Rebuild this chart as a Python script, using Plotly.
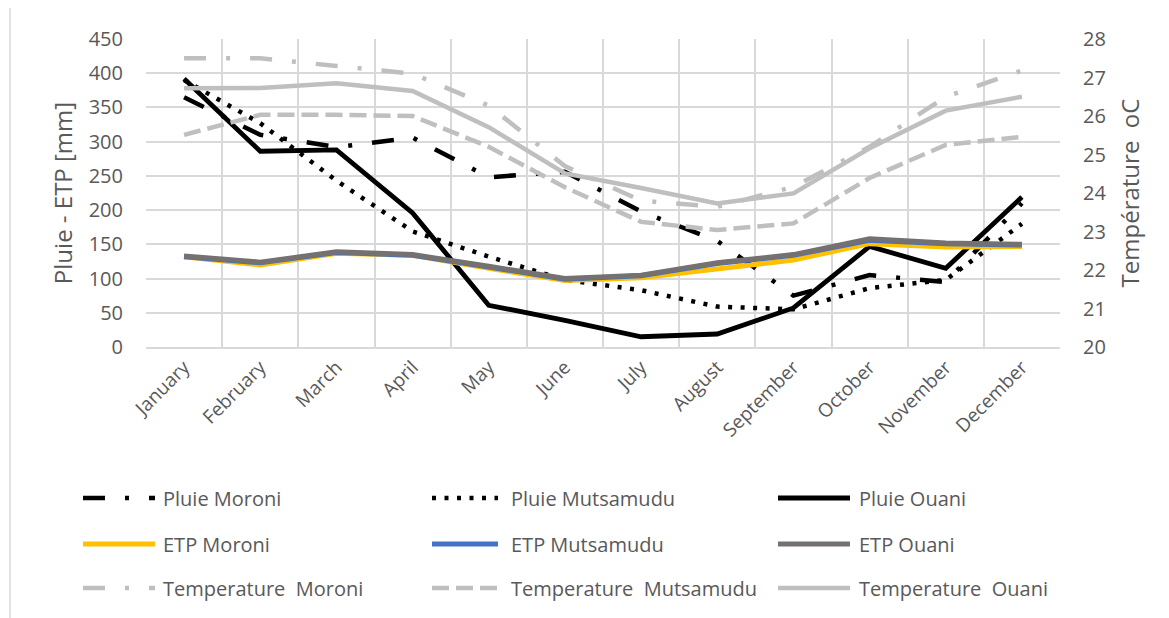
import plotly.graph_objects as go

months = ["January", "February", "March", "April", "May", "June", "July",
          "August", "September", "October", "November", "December"]

pluie_moroni = [365, 310, 292, 306, 248, 256, 198, 155, 75, 105, 95, 210]
pluie_mutsamudu = [390, 327, 243, 169, 132, 98, 83, 59, 55, 86, 98, 180]
pluie_ouani = [392, 286, 288, 196, 61, 39, 15, 19, 57, 147, 115, 219]

etp_moroni = [132, 120, 137, 134, 115, 97, 101, 114, 127, 151, 146, 147]
etp_mutsamudu = [132, 123, 138, 134, 117, 99, 104, 122, 134, 156, 151, 149]
etp_ouani = [133, 124, 139, 135, 118, 100, 105, 123, 135, 158, 152, 150]

temp_moroni = [27.5, 27.5, 27.3, 27.1, 26.27, 24.7, 23.8, 23.64, 24.16, 25.2, 26.5, 27.18]
temp_mutsamudu = [25.51, 26.03, 26.03, 26.0, 25.2, 24.15, 23.25, 23.04, 23.21, 24.39, 25.25, 25.46]
temp_ouani = [26.72, 26.73, 26.85, 26.65, 25.71, 24.51, 24.13, 23.73, 23.99, 25.16, 26.14, 26.5]

left_ticks = list(range(0, 451, 50))
right_ticks = list(range(20, 29))

FONT = "Open Sans"
TXT = "#595959"
GRID = "#D9D9D9"
LGRAY = "#BFBFBF"

DASHDOT = "22px,20px,4px,20px"
DOTTED = "4px,8.5px"
DASHED = "17px,7px"

series = [
    ("Pluie Moroni", pluie_moroni, "y", "#000000", 4.5, DASHDOT),
    ("Pluie Mutsamudu", pluie_mutsamudu, "y", "#000000", 4.5, DOTTED),
    ("Pluie Ouani", pluie_ouani, "y", "#000000", 4.8, "solid"),
    ("ETP Moroni", etp_moroni, "y", "#FFC000", 5, "solid"),
    ("ETP Mutsamudu", etp_mutsamudu, "y", "#4472C4", 5, "solid"),
    ("ETP Ouani", etp_ouani, "y", "#767171", 5, "solid"),
    ("Temperature  Moroni", temp_moroni, "y2", LGRAY, 4.5, DASHDOT),
    ("Temperature  Mutsamudu", temp_mutsamudu, "y2", LGRAY, 4.5, DASHED),
    ("Temperature  Ouani", temp_ouani, "y2", LGRAY, 4.5, "solid"),
]

fig = go.Figure()
for name, vals, ax, col, w, dash in series:
    fig.add_trace(go.Scatter(x=months, y=vals, name=name, yaxis=ax, mode="lines",
                             line=dict(color=col, width=w, dash=dash),
                             showlegend=False))

# page body has an 8px margin: work in screen pixels, convert to figure pixels
OFF = 8
W, H = 1169 - OFF, 618 - OFF
L, R, T, B = 146 - OFF, 1060 - OFF, 39 - OFF, 347 - OFF


def px(xs):
    return (xs - OFF - L) / (R - L)


def py(ys):
    return (B - (ys - OFF)) / (B - T)


shapes = []
annotations = []
# manual legend (3 columns x 3 rows), screen coordinates
col_sym = [(83, 155), (432, 498), (778, 850)]
col_txt = [161, 509, 857]
row_y = [498, 544, 588]
for i, (name, vals, ax, col, w, dash) in enumerate(series):
    c = i % 3
    r = i // 3
    x0, x1 = col_sym[c]
    yy = row_y[r]
    shapes.append(dict(type="line", xref="paper", yref="paper",
                       x0=px(x0), x1=px(x1), y0=py(yy), y1=py(yy),
                       line=dict(color=col, width=w, dash=dash)))
    annotations.append(dict(text=name, xref="paper", yref="paper",
                            x=px(col_txt[c]), y=py(yy), xanchor="left", yanchor="middle",
                            showarrow=False, font=dict(family=FONT, size=20, color=TXT)))

# chart border (left edge)
shapes.append(dict(type="line", xref="paper", yref="paper",
                   x0=px(10), x1=px(10), y0=py(0), y1=py(618),
                   line=dict(color=GRID, width=1.5)))

fig.update_layout(
    width=W, height=H,
    margin=dict(l=L, r=W - R, t=T, b=H - B, pad=0),
    paper_bgcolor="white", plot_bgcolor="white",
    font=dict(family=FONT, color=TXT),
    showlegend=False,
    shapes=shapes,
    annotations=annotations,
    xaxis=dict(type="category", tickson="boundaries", showgrid=True,
               gridcolor=GRID, gridwidth=1.5, tickangle=-45,
               tickfont=dict(family=FONT, size=19, color=TXT),
               ticks="", showline=True, linecolor=GRID, linewidth=1.5,
               range=[-0.5, 11.5], mirror=False),
    yaxis=dict(range=[0, 450], tickvals=left_ticks, showgrid=True,
               gridcolor=GRID, gridwidth=1.5, zeroline=False,
               tickfont=dict(family=FONT, size=20, color=TXT),
               ticklabelstandoff=22,
               title=dict(text="Pluie - ETP [mm]", standoff=9,
                          font=dict(family=FONT, size=24, color=TXT))),
    yaxis2=dict(range=[20, 28], tickvals=right_ticks, overlaying="y", side="right",
                showgrid=False, zeroline=False,
                tickfont=dict(family=FONT, size=20, color=TXT),
                ticklabelstandoff=22,
                title=dict(text="Température  oC", standoff=16,
                           font=dict(family=FONT, size=24, color=TXT))),
)

fig.write_html("out.html")
